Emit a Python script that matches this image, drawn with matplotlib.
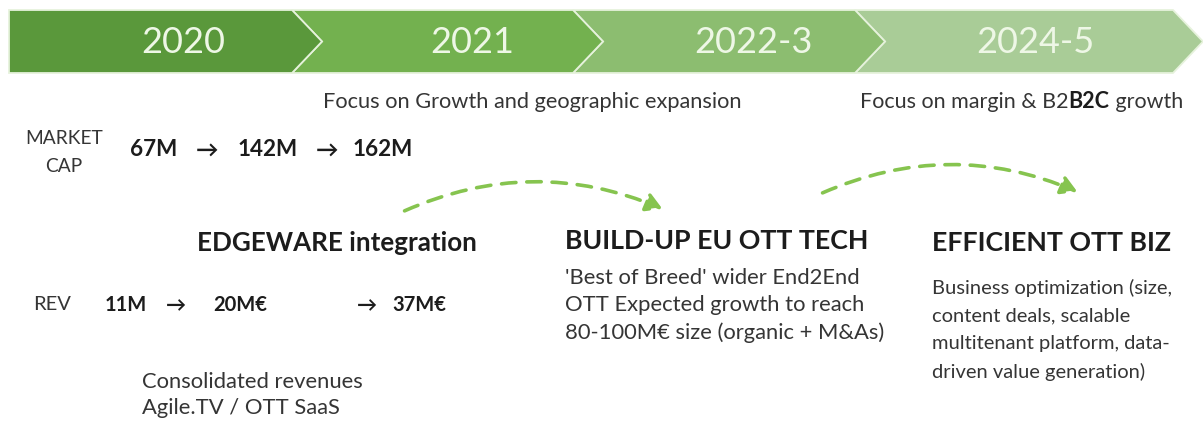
import matplotlib
matplotlib.use("Agg")
import matplotlib.pyplot as plt
from matplotlib.patches import Polygon, FancyArrowPatch

plt.rcParams['font.family'] = ['Lato', 'DejaVu Sans']

# ---- data ----
years = ["2020", "2021", "2022-3", "2024-5"]
year_colors = ["#5a983b", "#73b14f", "#8cbd70", "#a9cc97"]
focus_notes = ["Focus on Growth and geographic expansion"]
market_cap = ["67M", "142M", "162M"]
revenue = ["11M", "20M€", "37M€"]
phase_titles = ["EDGEWARE integration", "BUILD-UP EU OTT TECH", "EFFICIENT OTT BIZ"]
phase_notes = [
    "'Best of Breed' wider End2End\nOTT Expected growth to reach\n80-100M€ size (organic + M&As)",
    "Business optimization (size,\ncontent deals, scalable\nmultitenant platform, data-\ndriven value generation)",
]
rev_note = "Consolidated revenues\nAgile.TV / OTT SaaS"

# ---- layout ----
W, H = 1203, 447
fig = plt.figure(figsize=(W / 100, H / 100), dpi=100)
ax = fig.add_axes([0, 0, 1, 1])
ax.set_xlim(0, W)
ax.set_ylim(H, 0)
ax.axis("off")

bounds = [9, 292, 573, 855, 1173]
top, bot, tip = 10, 73, 30
mid = (top + bot) / 2
year_x = [183, 472, 753, 1035]
for i, (lab, col) in enumerate(zip(years, year_colors)):
    x0, x1 = bounds[i], bounds[i + 1]
    if i == 0:
        pts = [(x0, top), (x1, top), (x1 + tip, mid), (x1, bot), (x0, bot)]
    else:
        pts = [(x0, top), (x1, top), (x1 + tip, mid), (x1, bot), (x0, bot), (x0 + tip, mid)]
    ax.add_patch(Polygon(pts, closed=True, facecolor=col, edgecolor="#e6f2dc",
                         lw=1.3, zorder=2 + (3 - i)))
    ax.text(year_x[i], mid + 1, lab, ha="center", va="center", fontsize=26,
            color="#eef7e6", zorder=10)

txt = "#353535"
dark = "#1c1c1c"

# focus notes
ax.text(323, 102, focus_notes[0], ha="left", va="center", fontsize=15.7, color=txt)
t1 = ax.text(860, 102, "Focus on margin & B2", ha="left", va="center", fontsize=15.5, color=txt)
t2 = ax.annotate("B2C", xy=(1, 0), xycoords=t1, ha="left", va="bottom",
                 fontsize=15.5, color=dark, fontweight="bold")
ax.annotate(" growth", xy=(1, 0), xycoords=t2, ha="left", va="bottom",
            fontsize=15.5, color=txt)

# market cap
ax.text(64, 138, "MARKET", ha="center", va="center", fontsize=13.8, color=txt)
ax.text(64, 166, "CAP", ha="center", va="center", fontsize=13.8, color=txt)
mc_x = [130, 196, 238, 316, 353]
mc_items = [market_cap[0], "→", market_cap[1], "→", market_cap[2]]
for x, s in zip(mc_x, mc_items):
    ax.text(x, 150, s, ha="left", va="center", fontsize=16.2, fontweight="bold", color=dark)

# revenue
ax.text(33, 305, "REV", ha="left", va="center", fontsize=14.5, color=txt)
rv_x = [105, 166, 213, 357, 392]
rv_items = [revenue[0], "→", revenue[1], "→", revenue[2]]
for x, s in zip(rv_x, rv_items):
    ax.text(x, 305, s, ha="left", va="center", fontsize=14.5, fontweight="bold", color=dark)

ax.text(142, 395, rev_note, ha="left", va="center", fontsize=15.8, color=txt,
        linespacing=1.43)

# phase titles
ax.text(197, 243, phase_titles[0], ha="left", va="center", fontsize=18.7,
        fontweight="bold", color=dark)
ax.text(565, 241, phase_titles[1], ha="left", va="center", fontsize=19.3,
        fontweight="bold", color=dark)
ax.text(932, 243, phase_titles[2], ha="left", va="center", fontsize=19.3,
        fontweight="bold", color=dark)

ax.text(565, 305.5, phase_notes[0], ha="left", va="center", fontsize=15.8, color=txt,
        linespacing=1.46)
ax.text(932, 330, phase_notes[1], ha="left", va="center", fontsize=14.5, color=txt,
        linespacing=1.72)

# dashed arcs
green = "#86c44f"
for (xa, ya), (xb, yb) in [((402, 212), (665, 210)), ((820, 194), (1080, 193))]:
    arr = FancyArrowPatch((xa, ya), (xb, yb), connectionstyle="arc3,rad=-0.22",
                          arrowstyle="-|>,head_length=6,head_width=3.5",
                          linestyle=(0, (4, 3)), lw=2.6, color=green,
                          mutation_scale=1.6, zorder=5)
    ax.add_patch(arr)

fig.savefig("out.png", dpi=100)
